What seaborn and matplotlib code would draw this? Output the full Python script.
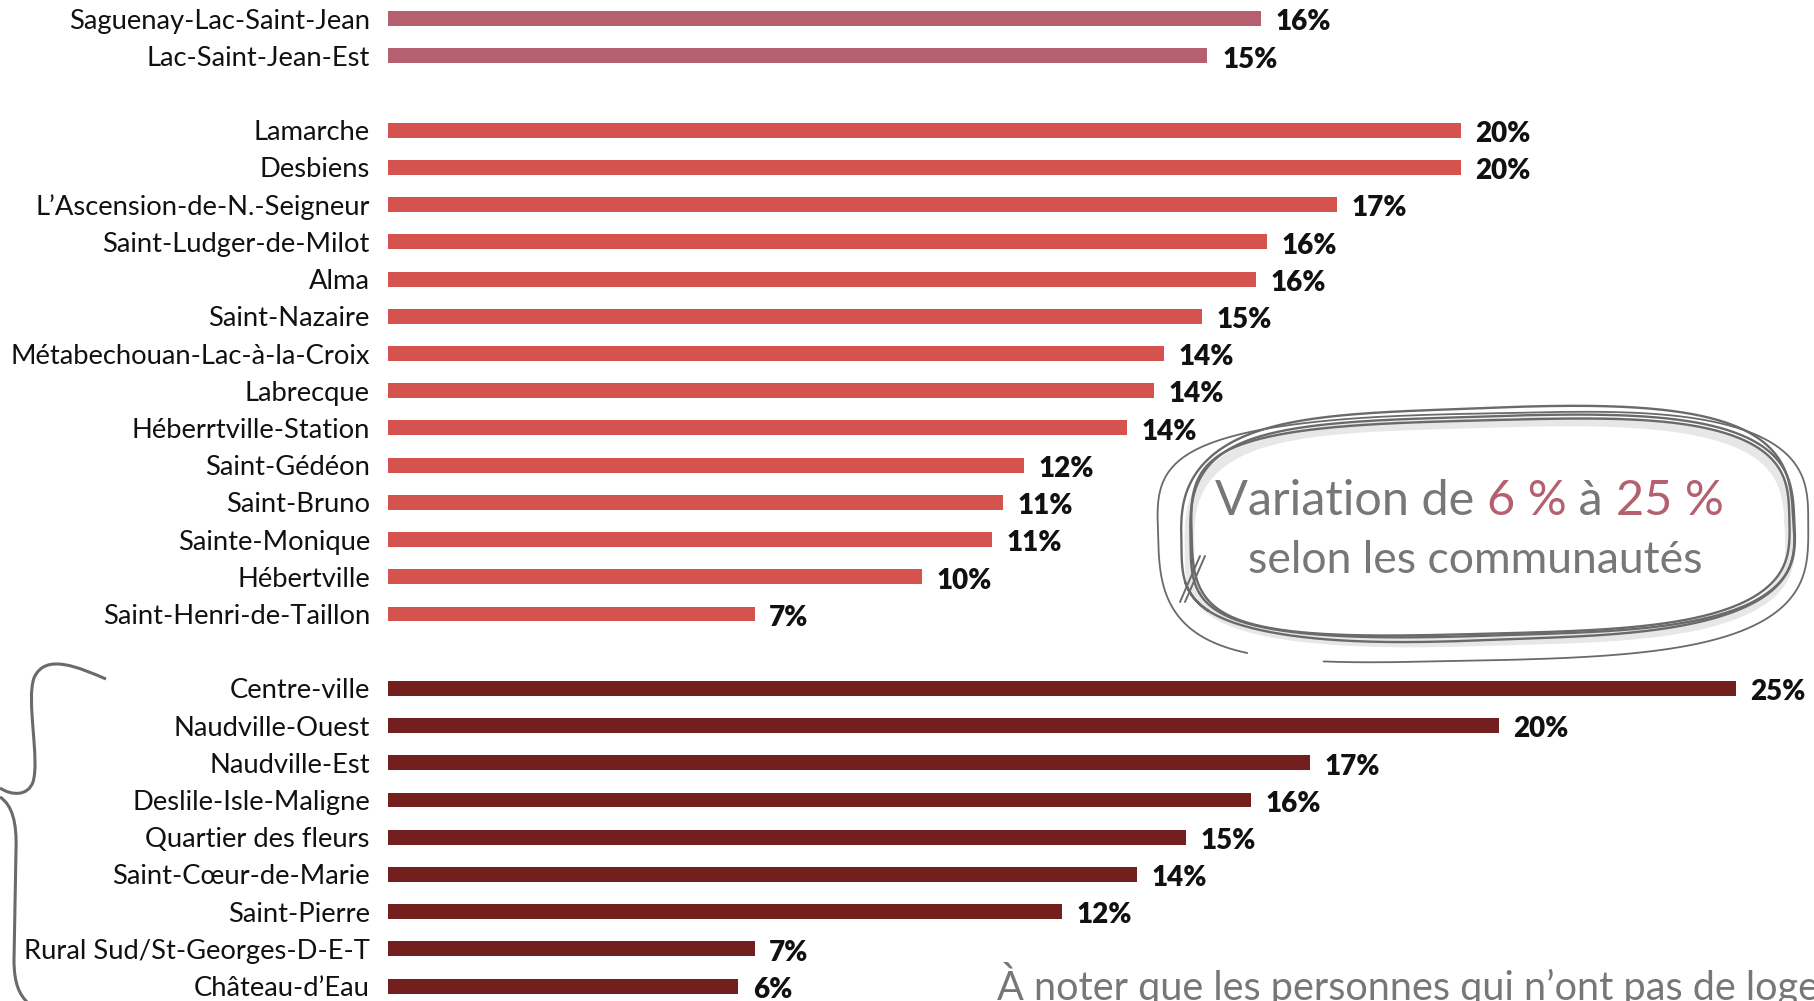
import numpy as np
import pandas as pd
import matplotlib
matplotlib.use("Agg")
import matplotlib.pyplot as plt
import seaborn as sns
from matplotlib.lines import Line2D
from matplotlib.path import Path
from matplotlib.patches import PathPatch

# ---------------- data ----------------
region_names = ["Saguenay-Lac-Saint-Jean", "Lac-Saint-Jean-Est"]
region_values = [16.2, 15.2]
region_labels = ["16%", "15%"]

municip_names = ["Lamarche", "Desbiens", "L’Ascension-de-N.-Seigneur", "Saint-Ludger-de-Milot",
                 "Alma", "Saint-Nazaire", "Métabechouan-Lac-à-la-Croix", "Labrecque",
                 "Héberrtville-Station", "Saint-Gédéon", "Saint-Bruno", "Sainte-Monique",
                 "Hébertville", "Saint-Henri-de-Taillon"]
municip_values = [19.9, 19.9, 17.6, 16.3, 16.1, 15.1, 14.4, 14.2, 13.7, 11.8, 11.4, 11.2, 9.9, 6.8]
municip_labels = ["20%", "20%", "17%", "16%", "16%", "15%", "14%", "14%", "14%", "12%",
                  "11%", "11%", "10%", "7%"]

quartier_names = ["Centre-ville", "Naudville-Ouest", "Naudville-Est", "Deslile-Isle-Maligne",
                  "Quartier des fleurs", "Saint-Cœur-de-Marie", "Saint-Pierre",
                  "Rural Sud/St-Georges-D-E-T", "Château-d’Eau"]
quartier_values = [25.0, 20.6, 17.1, 16.0, 14.8, 13.9, 12.5, 6.8, 6.5]
quartier_labels = ["25%", "20%", "17%", "16%", "15%", "14%", "12%", "7%", "6%"]

group_names = ["Région", "Municipalités", "Quartiers d'Alma"]
group_colors = ["#B4606E", "#D4534F", "#731F1D"]

callout_line1 = [("Variation de ", "grey"), ("6 %", "accent"), (" à ", "grey"), ("25 %", "accent")]
callout_line2 = "selon les communautés"
footnote = "À noter que les personnes qui n’ont pas de logement"

# ---------------- table ----------------
df = pd.DataFrame({
    "name": region_names + municip_names + quartier_names,
    "value": region_values + municip_values + quartier_values,
    "label": region_labels + municip_labels + quartier_labels,
    "group": [group_names[0]] * len(region_names) + [group_names[1]] * len(municip_names)
             + [group_names[2]] * len(quartier_names),
})
gap1, gap2 = " ", "  "
order = region_names + [gap1] + municip_names + [gap2] + quartier_names

W, H = 1814, 1001
sns.set_theme(style="white")
plt.rcParams["font.family"] = ["Lato", "DejaVu Sans"]

fig = plt.figure(figsize=(W / 100, H / 100), dpi=100)
ax = fig.add_axes([388 / W, 0, 1 - 388 / W, 1])

sns.barplot(data=df, y="name", x="value", hue="group", order=order,
            hue_order=group_names, palette=group_colors, orient="h", saturation=1,
            width=0.4, dodge=False, linewidth=0, legend=False, ax=ax)

ax.set_xlim(0, 26.45)
ax.set_ylim(26.40, -0.50)
ax.set_xlabel("")
ax.set_ylabel("")
ax.set_xticks([])
for s in ax.spines.values():
    s.set_visible(False)
ax.tick_params(axis="y", length=0, pad=13, labelsize=19.7, labelcolor="#111111")

pos = {n: i for i, n in enumerate(order)}
for _, r in df.iterrows():
    ax.text(r["value"] + 0.27, pos[r["name"]] + 0.10, r["label"], ha="left", va="center",
            fontsize=20, fontweight="heavy", color="#111111")

# ---------------- hand-drawn callout ----------------
def px(x, y):
    return np.asarray(x) / W, 1 - np.asarray(y) / H

def loop(cx, cy, a, b, rot, ph, t0, t1, lw, p=3.2, col="#6a6a6a", alpha=1.0):
    t = np.linspace(t0, t1, 400)
    c, s = np.cos(t), np.sin(t)
    xs = np.sign(c) * np.abs(c) ** (2 / p) * a * (1 + 0.015 * np.sin(3 * t + ph))
    ys = np.sign(s) * np.abs(s) ** (2 / p) * b * (1 + 0.03 * np.sin(2 * t + ph))
    r = np.deg2rad(rot)
    X = cx + xs * np.cos(r) - ys * np.sin(r)
    Y = cy + xs * np.sin(r) + ys * np.cos(r)
    fx, fy = px(X, Y)
    fig.add_artist(Line2D(fx, fy, transform=fig.transFigure, color=col, lw=lw,
                          alpha=alpha, solid_capstyle="round"))

# shadow
loop(1488, 532, 300, 110, -2.0, 0.3, 0, 2 * np.pi, 7, col="#d0d0d0", alpha=0.5)
loop(1487, 524, 306, 116, -2.5, 0.0, 2.6, 2.6 + 2 * np.pi * 1.05, 1.7)
loop(1489, 526, 302, 112, -2.0, 0.8, 2.8, 2.8 + 2 * np.pi, 1.7)
loop(1486, 527, 299, 110, -1.5, 1.6, 3.0, 3.0 + 2 * np.pi, 1.7)
loop(1480, 537, 325, 126, -1.0, 2.4, 2.2, 2.2 + 2 * np.pi * 0.95, 1.3)
for dx in (0, 5):
    fx, fy = px([1180 + dx, 1200 + dx], [602, 556])
    fig.add_artist(Line2D(fx, fy, transform=fig.transFigure, color="#6a6a6a", lw=1.4))

grey_txt = "#777777"
accent = "#B4606E"
fx, fy = px(1215, 515)
first_txt, first_kind = callout_line1[0]
prev = fig.text(fx, fy, first_txt, fontsize=35, color=grey_txt if first_kind == "grey" else accent,
                va="baseline")
for txt, kind in callout_line1[1:]:
    prev = ax.annotate(txt, xy=(1, 0), xycoords=prev, va="bottom", ha="left", fontsize=35,
                       color=grey_txt if kind == "grey" else accent, annotation_clip=False)
fx, fy = px(1475, 573)
fig.text(fx, fy, callout_line2, fontsize=32, color=grey_txt, ha="center", va="baseline")

# ---------------- brace at bottom left ----------------
def curve(verts, codes):
    pts = [px(x, y) for x, y in verts]
    p = Path(pts, codes)
    fig.add_artist(PathPatch(p, transform=fig.transFigure, fill=False,
                             edgecolor="#6a6a6a", lw=2.2))

M, C, L = Path.MOVETO, Path.CURVE4, Path.LINETO
curve([(106, 679), (80, 668), (45, 652), (34, 678),
       (26, 700), (40, 760), (33, 782),
       (28, 796), (12, 796), (0, 788)],
      [M, C, C, C, C, C, C, C, C, C])
curve([(0, 797), (12, 805), (17, 822), (16, 850),
       (14, 960),
       (14, 985), (20, 995), (28, 1003)],
      [M, C, C, C, L, C, C, C])

# ---------------- footnote (cut off by the page edge, as in the source) ----------------
fx, fy = px(997, 1000)
fig.text(fx, fy, footnote, fontsize=28.5, color=grey_txt, ha="left", va="baseline")

fig.savefig("out.png", dpi=100)
